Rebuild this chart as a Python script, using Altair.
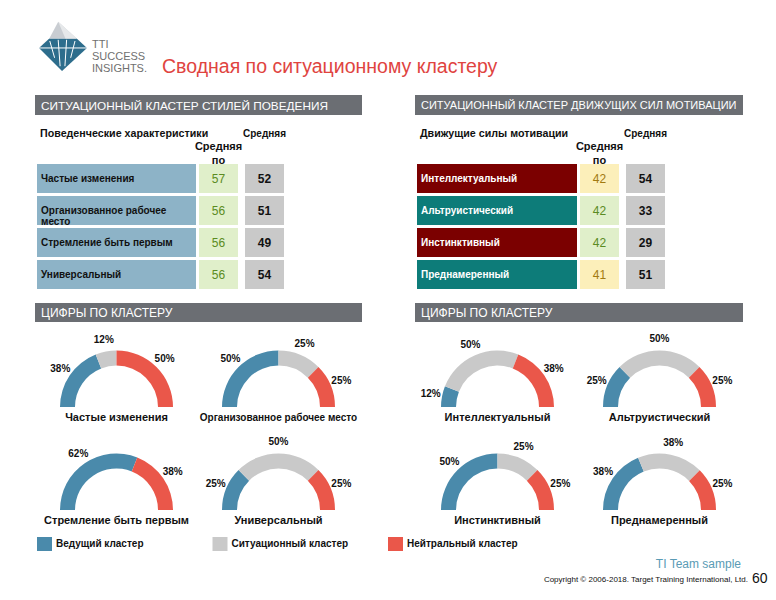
import math
import altair as alt
import pandas as pd

# ---------------- data ----------------
behavior_traits = ["Частые изменения", "Организованное рабочее\nместо",
                   "Стремление быть первым", "Универсальный"]
behavior_cluster_avg = [57, 56, 56, 56]
behavior_avg = [52, 51, 49, 54]

motivator_names = ["Интеллектуальный", "Альтруистический", "Инстинктивный", "Преднамеренный"]
motivator_cluster_avg = [42, 42, 42, 41]
motivator_avg = [54, 33, 29, 51]
motivator_group = ["A", "B", "A", "B"]      # label-cell category
motivator_tone = ["Y", "G", "G", "Y"]       # cluster-average cell category

gauge_names = ["Частые изменения", "Организованное рабочее место",
               "Стремление быть первым", "Универсальный",
               "Интеллектуальный", "Альтруистический",
               "Инстинктивный", "Преднамеренный"]
lead_pct = [38, 50, 62, 25, 12, 25, 50, 38]
situational_pct = [12, 25, 0, 50, 50, 50, 25, 38]
neutral_pct = [50, 25, 38, 25, 38, 25, 25, 25]
cluster_names = ["Ведущий кластер", "Ситуационный кластер", "Нейтральный кластер"]

# ---------------- styles ----------------
FONT = "Liberation Sans"
XS = alt.Scale(domain=[0, 776], range=[0, 776])
YS = alt.Scale(domain=[0, 600], range=[0, 600])
TS = alt.Scale(domain=[0, 1], range=[-math.pi / 2, math.pi / 2])
CLUSTER_COLORS = alt.Scale(domain=cluster_names, range=["#4a8aab", "#c9c9c9", "#ea574a"])
BAR = "#6b6e73"

dummy = pd.DataFrame({"t": [""]})


def rect(x, y, w, h, color):
    return alt.Chart(dummy).mark_rect(color=color).encode(
        x=alt.value(x), x2=alt.value(x + w), y=alt.value(y), y2=alt.value(y + h))


def txt(s, x, y, size=10, weight="normal", color="#111111", align="left"):
    return alt.Chart(pd.DataFrame({"t": [s]})).mark_text(
        font=FONT, fontSize=size, fontWeight=weight, color=color,
        align=align, baseline="middle").encode(x=alt.value(x), y=alt.value(y), text="t:N")


def logo_shape(path, color, filled=True, sw=1.0):
    return alt.Chart(dummy).mark_point(
        shape=path, size=2304, filled=filled, color=color, opacity=1,
        strokeWidth=sw).encode(x=alt.value(63), y=alt.value(47))


layers = []

# ---------- logo & title ----------
layers.append(logo_shape("M-1,0.04 L-0.57,-0.35 L0.57,-0.35 L1,0.04 L-0.04,1.0 Z", "#2d6d8c"))
layers.append(logo_shape("M-0.57,-0.35 L-0.2,-1.05 L0.57,-0.35 Z", "#c9cdd2"))
layers.append(logo_shape("M-0.2,-1.05 L0.1,-0.35 L0.57,-0.35 Z", "#e6e8ea"))
layers.append(logo_shape("M-0.55,-0.25 L-0.35,0.45 M-0.2,-0.3 L-0.12,0.8 M0.15,-0.3 L0.08,0.8 "
                         "M0.5,-0.25 L0.32,0.45 M-1,0.04 L1,0.04",
                         "#ffffff", filled=False, sw=1.0))
layers.append(txt("TTI", 92, 45, size=11, color="#707070"))
layers.append(txt("SUCCESS", 92, 57, size=11, color="#707070"))
layers.append(txt("INSIGHTS.", 92, 69, size=11, color="#707070"))
layers.append(txt("Сводная по ситуационному кластеру", 162, 67, size=19.5, color="#e0443f"))

# ---------- section headers ----------
layers += [rect(35, 95, 327, 20, BAR), rect(415, 95, 328, 20, BAR),
           rect(35, 303, 327, 19, BAR), rect(415, 303, 328, 19, BAR)]
layers.append(txt("СИТУАЦИОННЫЙ КЛАСТЕР СТИЛЕЙ ПОВЕДЕНИЯ", 41, 105.5, size=11.8, color="white"))
layers.append(txt("СИТУАЦИОННЫЙ КЛАСТЕР ДВИЖУЩИХ СИЛ МОТИВАЦИИ", 421, 105.5, size=11, color="white"))
layers.append(txt("ЦИФРЫ ПО КЛАСТЕРУ", 41, 312.5, size=12, color="white"))
layers.append(txt("ЦИФРЫ ПО КЛАСТЕРУ", 421, 312.5, size=12, color="white"))

# ---------- column headers ----------
layers.append(txt("Поведенческие характеристики", 40, 134, size=10.7, weight="bold"))
layers.append(txt("Средняя", 264.5, 134, weight="bold", align="center"))
layers.append(txt("Средняя", 218.5, 147, size=11, weight="bold", align="center"))
layers.append(txt("по", 218.5, 161, size=11, weight="bold", align="center"))
layers.append(txt("Движущие силы мотивации", 420, 134, size=10.7, weight="bold"))
layers.append(txt("Средняя", 645.5, 134, weight="bold", align="center"))
layers.append(txt("Средняя", 599.5, 147, size=11, weight="bold", align="center"))
layers.append(txt("по", 599.5, 161, size=11, weight="bold", align="center"))

# ---------- tables ----------
ROW_TOP, ROW_STEP, ROW_H = 164, 32, 29


def table_layers(df, xl0, xl1, xc0, xc1, xg0, xg1, label_color):
    base = alt.Chart(df).transform_calculate(
        y0=f"{ROW_TOP} + datum.row * {ROW_STEP}",
        y1=f"{ROW_TOP} + datum.row * {ROW_STEP} + {ROW_H}",
        ym=f"{ROW_TOP} + datum.row * {ROW_STEP} + {ROW_H / 2}")
    Y0 = alt.Y("y0:Q", scale=YS, axis=None)
    YM = alt.Y("ym:Q", scale=YS, axis=None)
    out = []
    out.append(base.mark_rect().encode(
        x=alt.value(xl0), x2=alt.value(xl1), y=Y0, y2="y1:Q",
        color=alt.Color("grp:N", scale=alt.Scale(domain=["L", "A", "B"],
                                                 range=["#8db3c7", "#7b0000", "#0d7c79"]),
                        legend=None)))
    out.append(base.mark_text(align="left", baseline="middle", font=FONT, fontSize=10,
                              fontWeight="bold", lineBreak="\n", lineHeight=11,
                              color=label_color).encode(
        x=alt.value(xl0 + 4), y=YM, text="name:N"))
    out.append(base.mark_rect().encode(
        x=alt.value(xc0), x2=alt.value(xc1), y=Y0, y2="y1:Q",
        color=alt.Color("tone:N", scale=alt.Scale(domain=["G", "Y"],
                                                  range=["#e0efca", "#fcefba"]),
                        legend=None)))
    out.append(base.mark_text(align="center", baseline="middle", font=FONT, fontSize=12).encode(
        x=alt.value((xc0 + xc1) / 2), y=YM, text="cavg:Q",
        color=alt.Color("tone:N", scale=alt.Scale(domain=["G", "Y"],
                                                  range=["#5b8b22", "#a27a10"]),
                        legend=None)))
    out.append(base.mark_rect(color="#c9c9c9").encode(
        x=alt.value(xg0), x2=alt.value(xg1), y=Y0, y2="y1:Q"))
    out.append(base.mark_text(align="center", baseline="middle", font=FONT, fontSize=12,
                              fontWeight="bold", color="#111111").encode(
        x=alt.value((xg0 + xg1) / 2), y=YM, text="avg:Q"))
    return out


df_b = pd.DataFrame({"row": range(4), "name": behavior_traits,
                     "cavg": behavior_cluster_avg, "avg": behavior_avg,
                     "grp": ["L"] * 4, "tone": ["G"] * 4})
df_m = pd.DataFrame({"row": range(4), "name": motivator_names,
                     "cavg": motivator_cluster_avg, "avg": motivator_avg,
                     "grp": motivator_group, "tone": motivator_tone})
layers += table_layers(df_b, 37, 196, 199, 238, 245, 284, "#111111")
layers += table_layers(df_m, 417, 577, 580, 619, 626, 665, "#ffffff")

# ---------- gauges ----------
g_rows = []
for g in range(len(gauge_names)):
    for k, vals in enumerate([lead_pct, situational_pct, neutral_pct]):
        g_rows.append({"g": g, "k": k, "cluster": cluster_names[k], "value": vals[g]})
gdf = pd.DataFrame(g_rows)

CX = "116.5 + (datum.g >= 4 ? 381 : 0) + (datum.g % 2) * 162"
CY = "407 + floor((datum.g % 4) / 2) * 103"

gbase = alt.Chart(gdf).transform_stack(
    stack="value", groupby=["g"], as_=["v0", "v1"], offset="normalize",
    sort=[alt.SortField("k", order="ascending")]
).transform_calculate(cx=CX, cy=CY, mid="(datum.v0 + datum.v1) / 2",
                      lbl="datum.value + '%'")

layers.append(gbase.mark_arc(radius=56.5, innerRadius=41.5).encode(
    x=alt.X("cx:Q", scale=XS, axis=None), y=alt.Y("cy:Q", scale=YS, axis=None),
    theta=alt.Theta("v0:Q", scale=TS, stack=False), theta2="v1:Q",
    color=alt.Color("cluster:N", scale=CLUSTER_COLORS, legend=None)))
layers.append(gbase.transform_filter("datum.value > 0").mark_text(
    radius=68, font=FONT, fontSize=10, fontWeight="bold", color="#111111",
    align="center", baseline="middle").encode(
    x=alt.X("cx:Q", scale=XS, axis=None), y=alt.Y("cy:Q", scale=YS, axis=None),
    theta=alt.Theta("mid:Q", scale=TS, stack=False), text="lbl:N"))

names_df = pd.DataFrame({"g": range(len(gauge_names)), "name": gauge_names})
layers.append(alt.Chart(names_df).transform_calculate(cx=CX, cy=CY + " + 11").mark_text(
    font=FONT, fontWeight="bold", color="#111111",
    align="center", baseline="middle").encode(
    x=alt.X("cx:Q", scale=XS, axis=None), y=alt.Y("cy:Q", scale=YS, axis=None),
    size=alt.condition("length(datum.name) > 24", alt.value(10), alt.value(11)),
    text="name:N"))

# ---------- legend ----------
leg_df = pd.DataFrame({"i": range(3), "cluster": cluster_names})
leg = alt.Chart(leg_df).transform_calculate(lx="37 + datum.i * 175.5", lx2="52 + datum.i * 175.5",
                                            tx="56 + datum.i * 175.5")
layers.append(leg.mark_rect().encode(
    x=alt.X("lx:Q", scale=XS, axis=None), x2="lx2:Q",
    y=alt.value(537), y2=alt.value(551),
    color=alt.Color("cluster:N", scale=CLUSTER_COLORS, legend=None)))
layers.append(leg.mark_text(font=FONT, fontSize=10, fontWeight="bold", color="#111111",
                            align="left", baseline="middle").encode(
    x=alt.X("tx:Q", scale=XS, axis=None), y=alt.value(544), text="cluster:N"))

# ---------- footer ----------
layers.append(txt("TI Team sample", 741, 564, size=12, color="#5a9bb5", align="right"))
layers.append(txt("Copyright © 2006-2018. Target Training International, Ltd.", 748, 580,
                  size=8, color="#111111", align="right"))
layers.append(txt("60", 752, 579, size=14, color="#111111"))

chart = alt.layer(*layers).resolve_scale(color="independent").properties(
    width=776, height=600, padding=0, autosize="none", background="white"
).configure_view(stroke=None)

chart.save("out.html", embed_options={"renderer": "svg", "actions": False})
